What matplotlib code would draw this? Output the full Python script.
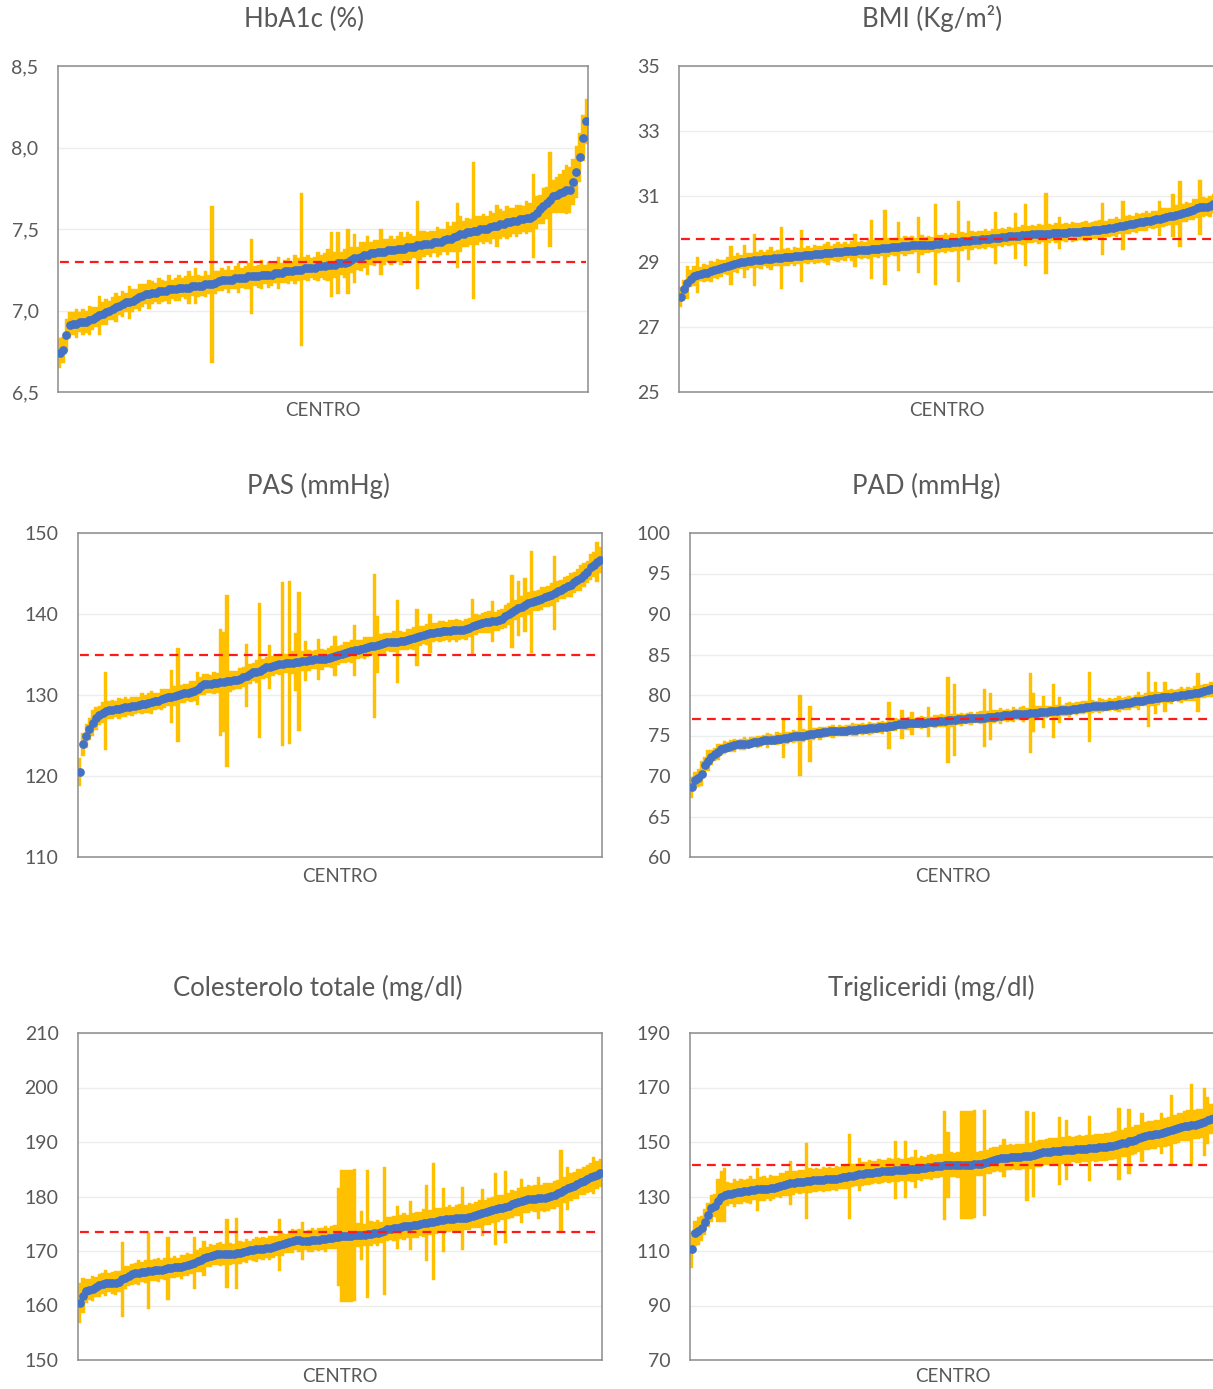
import numpy as np
import matplotlib
matplotlib.use("Agg")
import matplotlib.pyplot as plt
from matplotlib.ticker import FuncFormatter

plt.rcParams['font.family'] = ['Lato', 'DejaVu Sans']

# ---------------- HbA1c (%) : centre means (sorted) and CI half-widths ----------------
hba1c_mean = [
    6.74, 6.76, 6.85, 6.91, 6.92, 6.92, 6.93, 6.93, 6.93, 6.94, 6.95, 6.96, 6.97, 6.98, 6.99, 7.00,
    7.01, 7.02, 7.03, 7.04, 7.05, 7.05, 7.06, 7.07, 7.08, 7.09, 7.10, 7.10, 7.11, 7.11, 7.12, 7.12,
    7.12, 7.13, 7.13, 7.13, 7.14, 7.14, 7.14, 7.14, 7.15, 7.15, 7.15, 7.15, 7.16, 7.16, 7.16, 7.17,
    7.18, 7.19, 7.19, 7.19, 7.19, 7.20, 7.20, 7.20, 7.20, 7.21, 7.21, 7.21, 7.21, 7.22, 7.22, 7.22,
    7.22, 7.23, 7.23, 7.23, 7.24, 7.24, 7.24, 7.25, 7.25, 7.25, 7.26, 7.26, 7.26, 7.26, 7.27, 7.27,
    7.27, 7.28, 7.28, 7.28, 7.29, 7.29, 7.29, 7.30, 7.31, 7.32, 7.32, 7.33, 7.34, 7.34, 7.35, 7.35,
    7.36, 7.36, 7.36, 7.37, 7.37, 7.37, 7.38, 7.38, 7.38, 7.39, 7.39, 7.39, 7.40, 7.40, 7.41, 7.41,
    7.41, 7.42, 7.42, 7.42, 7.43, 7.44, 7.44, 7.45, 7.46, 7.47, 7.47, 7.48, 7.48, 7.49, 7.49, 7.50,
    7.50, 7.50, 7.51, 7.52, 7.52, 7.53, 7.53, 7.54, 7.54, 7.55, 7.55, 7.56, 7.56, 7.57, 7.57, 7.58,
    7.60, 7.62, 7.64, 7.66, 7.68, 7.70, 7.71, 7.72, 7.73, 7.74, 7.74, 7.79, 7.85, 7.94, 8.06, 8.16,
]
hba1c_ci = [
    .09, .08, .10, .08, .07, .09, .06, .08, .07, .09, .07, .06, .12, .07, .08, .06,
    .07, .09, .06, .08, .06, .10, .07, .06, .08, .07, .06, .09, .07, .06, .08, .07,
    .06, .09, .06, .07, .08, .06, .07, .10, .06, .11, .07, .06, .08, .06, .48, .07,
    .06, .07, .06, .08, .06, .07, .09, .06, .07, .08, .23, .06, .07, .09, .06, .08,
    .07, .06, .10, .06, .07, .08, .06, .09, .07, .47, .07, .08, .06, .07, .09, .07,
    .08, .10, .20, .08, .19, .07, .09, .20, .08, .15, .07, .09, .08, .12, .07, .08,
    .07, .14, .08, .07, .09, .07, .08, .10, .07, .09, .08, .07, .27, .09, .08, .07,
    .08, .07, .09, .08, .07, .10, .08, .09, .20, .11, .08, .09, .08, .42, .09, .08,
    .09, .08, .10, .08, .13, .09, .08, .10, .09, .08, .10, .09, .08, .10, .09, .26,
    .10, .09, .11, .10, .29, .10, .11, .12, .13, .15, .14, .14, .16, .15, .14, .14,
]
hba1c_ref = 7.3

# ---------------- BMI (Kg/m2) ----------------
bmi_mean = [
    27.92, 28.15, 28.35, 28.48, 28.55, 28.60, 28.62, 28.64, 28.66, 28.70, 28.74, 28.77, 28.80, 28.83, 28.86, 28.89,
    28.92, 28.95, 28.98, 29.00, 29.01, 29.03, 29.04, 29.05, 29.06, 29.07, 29.08, 29.09, 29.10, 29.11, 29.12, 29.13,
    29.14, 29.15, 29.16, 29.17, 29.18, 29.19, 29.20, 29.21, 29.22, 29.23, 29.24, 29.25, 29.26, 29.27, 29.28, 29.29,
    29.30, 29.31, 29.32, 29.33, 29.34, 29.35, 29.36, 29.36, 29.37, 29.38, 29.39, 29.40, 29.41, 29.42, 29.43, 29.44,
    29.45, 29.46, 29.47, 29.48, 29.49, 29.50, 29.50, 29.51, 29.51, 29.51, 29.52, 29.52, 29.53, 29.54, 29.56, 29.57,
    29.58, 29.59, 29.60, 29.61, 29.62, 29.63, 29.64, 29.65, 29.66, 29.67, 29.68, 29.69, 29.70, 29.71, 29.72, 29.73,
    29.74, 29.75, 29.77, 29.78, 29.79, 29.80, 29.81, 29.82, 29.83, 29.84, 29.84, 29.85, 29.85, 29.86, 29.86, 29.87,
    29.88, 29.88, 29.89, 29.89, 29.90, 29.90, 29.91, 29.92, 29.93, 29.94, 29.95, 29.96, 29.97, 29.98, 29.99, 30.00,
    30.02, 30.04, 30.06, 30.08, 30.10, 30.12, 30.14, 30.16, 30.18, 30.20, 30.22, 30.24, 30.26, 30.28, 30.30, 30.32,
    30.35, 30.37, 30.39, 30.41, 30.43, 30.46, 30.49, 30.52, 30.55, 30.59, 30.63, 30.66, 30.67, 30.68, 30.70, 30.78,
]
bmi_ci = [
    .30, .28, .50, .25, .30, .55, .22, .28, .25, .32, .24, .30, .26, .22, .28, .60,
    .25, .30, .22, .50, .26, .24, .80, .25, .30, .22, .27, .35, .24, .26, .95, .25,
    .28, .22, .30, .25, .80, .24, .27, .22, .30, .26, .24, .28, .35, .22, .26, .30,
    .25, .28, .22, .30, .50, .24, .27, .25, .30, .90, .26, .28, .24, 1.15, .30, .25,
    .27, .75, .24, .30, .26, .28, .22, .85, .30, .25, .27, .24, 1.25, .28, .26, .30,
    .24, .30, .26, 1.25, .28, .25, .60, .30, .24, .28, .26, .30, .25, .28, .80, .26,
    .30, .24, .28, .26, .70, .25, .30, .95, .26, .28, .24, .30, .26, 1.25, .28, .25,
    .30, .50, .26, .28, .24, .30, .27, .25, .28, .30, .24, .26, .28, .30, .80, .25,
    .28, .26, .30, .24, .75, .27, .28, .25, .30, .26, .28, .30, .24, .28, .26, .55,
    .30, .28, .26, .65, .30, 1.00, .28, .30, .26, .32, .28, .85, .30, .28, .32, .30,
]
bmi_ref = 29.7

# ---------------- PAS (mmHg) ----------------
pas_mean = [
    120.5, 123.9, 124.9, 125.8, 126.5, 127.1, 127.5, 127.8, 128.0, 128.1, 128.2, 128.3, 128.3, 128.4, 128.5, 128.5,
    128.6, 128.7, 128.8, 128.9, 128.9, 129.0, 129.1, 129.2, 129.3, 129.5, 129.6, 129.7, 129.8, 129.9, 130.0, 130.1,
    130.2, 130.3, 130.4, 130.5, 130.8, 131.1, 131.3, 131.4, 131.4, 131.5, 131.5, 131.6, 131.6, 131.7, 131.7, 131.8,
    131.9, 132.0, 132.2, 132.4, 132.6, 132.8, 132.9, 133.0, 133.2, 133.4, 133.5, 133.6, 133.7, 133.8, 133.8, 133.9,
    134.0, 134.0, 134.1, 134.1, 134.2, 134.2, 134.3, 134.3, 134.4, 134.4, 134.4, 134.5, 134.6, 134.7, 134.8, 134.9,
    135.1, 135.2, 135.3, 135.4, 135.5, 135.6, 135.7, 135.8, 135.9, 136.0, 136.1, 136.2, 136.3, 136.4, 136.5, 136.5,
    136.6, 136.6, 136.7, 136.7, 136.8, 136.9, 137.0, 137.1, 137.3, 137.4, 137.5, 137.6, 137.7, 137.8, 137.8, 137.9,
    137.9, 137.9, 138.0, 138.0, 138.0, 138.0, 138.1, 138.3, 138.5, 138.7, 138.8, 138.9, 139.0, 139.0, 139.1, 139.1,
    139.2, 139.4, 139.7, 140.0, 140.3, 140.5, 140.7, 140.9, 141.1, 141.3, 141.5, 141.6, 141.7, 141.9, 142.1, 142.2,
    142.4, 142.6, 142.8, 143.0, 143.2, 143.4, 143.6, 143.9, 144.2, 144.5, 144.8, 145.2, 145.8, 146.1, 146.4, 146.7,
]
pas_ci = [
    1.7, 1.4, 1.5, 1.3, 1.6, 1.4, 1.2, 1.3, 4.8, 1.1, 1.2, 1.0, 1.3, 1.1, 1.2, 1.0,
    1.2, 1.1, 1.0, 1.3, 1.1, 1.2, 1.4, 1.1, 1.0, 1.3, 1.2, 1.1, 3.3, 1.2, 5.8, 1.1,
    1.2, 1.0, 1.3, 1.2, 2.0, 1.1, 1.3, 1.2, 1.1, 1.4, 1.2, 6.6, 6.2, 10.6, 1.3, 1.2,
    1.1, 1.3, 1.2, 3.9, 1.2, 1.1, 1.4, 8.3, 1.2, 1.3, 2.7, 1.2, 1.1, 1.3, 10.1, 1.2,
    10.1, 1.4, 3.6, 8.6, 1.2, 2.5, 1.3, 1.1, 1.2, 2.5, 1.3, 1.1, 1.2, 1.4, 2.5, 1.2,
    1.1, 1.3, 1.2, 1.4, 3.1, 1.2, 1.1, 1.3, 1.2, 1.1, 8.9, 3.5, 1.2, 1.3, 1.1, 1.2,
    1.3, 5.1, 1.2, 1.1, 1.3, 1.2, 1.4, 3.5, 1.2, 1.1, 1.3, 2.4, 1.2, 1.1, 1.3, 1.2,
    1.1, 1.3, 1.2, 1.4, 1.2, 1.1, 1.3, 1.2, 3.4, 1.3, 1.1, 1.2, 1.3, 1.4, 2.5, 1.2,
    1.3, 1.2, 1.4, 1.3, 4.5, 1.2, 3.4, 1.3, 3.3, 1.4, 6.3, 1.2, 1.3, 1.4, 1.2, 1.3,
    1.4, 4.6, 1.3, 1.2, 1.4, 1.3, 1.5, 1.3, 1.4, 1.6, 1.5, 1.4, 1.6, 1.5, 2.5, 1.6,
]
pas_ref = 135.0

# ---------------- PAD (mmHg) ----------------
pad_mean = [
    68.6, 69.5, 69.8, 70.3, 71.3, 71.9, 72.3, 72.7, 73.0, 73.3, 73.5, 73.6, 73.7, 73.8, 73.9, 73.9,
    74.0, 74.0, 74.1, 74.2, 74.2, 74.3, 74.4, 74.4, 74.5, 74.5, 74.6, 74.6, 74.7, 74.7, 74.8, 74.9,
    74.9, 75.0, 75.0, 75.1, 75.2, 75.2, 75.3, 75.3, 75.4, 75.4, 75.5, 75.5, 75.5, 75.6, 75.6, 75.6,
    75.7, 75.7, 75.7, 75.8, 75.8, 75.8, 75.9, 75.9, 75.9, 76.0, 76.0, 76.1, 76.2, 76.2, 76.3, 76.4,
    76.4, 76.4, 76.5, 76.5, 76.5, 76.6, 76.6, 76.6, 76.7, 76.7, 76.7, 76.8, 76.8, 76.8, 76.9, 76.9,
    76.9, 77.0, 77.0, 77.0, 77.1, 77.1, 77.1, 77.2, 77.2, 77.2, 77.3, 77.3, 77.3, 77.4, 77.4, 77.5,
    77.5, 77.5, 77.6, 77.6, 77.7, 77.7, 77.7, 77.8, 77.8, 77.8, 77.9, 77.9, 77.9, 78.0, 78.0, 78.0,
    78.1, 78.1, 78.2, 78.2, 78.3, 78.3, 78.4, 78.4, 78.5, 78.5, 78.6, 78.6, 78.7, 78.7, 78.7, 78.8,
    78.8, 78.8, 78.9, 78.9, 79.0, 79.0, 79.1, 79.2, 79.3, 79.3, 79.4, 79.5, 79.5, 79.6, 79.6, 79.7,
    79.7, 79.8, 79.8, 79.9, 79.9, 80.0, 80.0, 80.1, 80.1, 80.2, 80.3, 80.4, 80.5, 80.6, 80.7, 80.8,
]
pad_ci = [
    1.3, 1.0, 1.1, 1.5, 1.0, 1.3, 0.9, 0.8, 1.0, 0.7, 0.8, 0.6, 0.7, 0.8, 0.6, 0.7,
    0.8, 0.6, 0.7, 0.6, 0.8, 0.7, 0.6, 0.9, 0.7, 0.6, 0.8, 0.7, 2.5, 0.7, 0.6, 0.8,
    0.7, 4.95, 0.8, 0.6, 3.5, 0.7, 0.6, 0.8, 0.7, 0.6, 0.7, 0.8, 0.6, 0.7, 0.6, 0.7,
    0.6, 0.8, 0.7, 0.6, 0.7, 0.6, 0.8, 0.7, 0.6, 0.7, 0.8, 0.6, 2.9, 0.7, 0.8, 0.6,
    1.8, 0.7, 0.8, 1.4, 0.6, 0.7, 0.8, 0.7, 1.85, 0.6, 0.8, 0.7, 0.8, 0.7, 5.35, 0.8,
    4.4, 0.7, 0.8, 0.6, 0.7, 0.8, 0.6, 0.7, 0.8, 3.6, 0.7, 2.9, 0.8, 0.7, 1.0, 0.7,
    0.8, 0.7, 0.9, 0.7, 0.8, 1.0, 0.7, 4.9, 2.4, 0.8, 0.7, 2.0, 0.8, 0.7, 3.35, 0.8,
    1.6, 0.7, 0.8, 0.9, 0.7, 0.8, 0.7, 0.8, 0.7, 4.3, 0.8, 0.7, 0.9, 0.8, 0.7, 0.8,
    0.7, 0.8, 1.0, 0.7, 0.8, 0.9, 0.7, 0.8, 1.1, 0.7, 0.8, 3.4, 0.9, 2.0, 0.8, 0.7,
    1.85, 0.8, 0.9, 0.7, 0.8, 1.0, 0.8, 0.9, 0.8, 0.9, 2.45, 0.8, 0.9, 0.8, 0.9, 0.8,
]
pad_ref = 77.0

# ---------------- Colesterolo totale (mg/dl) ----------------
col_mean = [
    160.4, 161.8, 162.6, 162.9, 163.1, 163.4, 163.7, 164.0, 164.2, 164.2, 164.1, 164.1, 164.4, 164.8, 165.1, 165.4,
    165.7, 165.9, 166.0, 166.1, 166.2, 166.3, 166.4, 166.5, 166.5, 166.6, 166.7, 166.8, 166.9, 167.0, 167.0, 167.1,
    167.3, 167.5, 167.6, 167.8, 168.1, 168.4, 168.7, 168.9, 169.1, 169.3, 169.4, 169.4, 169.4, 169.5, 169.5, 169.5,
    169.6, 169.7, 169.8, 170.0, 170.1, 170.2, 170.3, 170.4, 170.4, 170.5, 170.6, 170.7, 170.9, 171.1, 171.2, 171.4,
    171.6, 171.8, 172.0, 172.0, 171.9, 171.9, 171.9, 172.0, 172.0, 172.1, 172.2, 172.2, 172.3, 172.4, 172.5, 172.6,
    172.7, 172.8, 172.8, 172.8, 172.9, 172.9, 172.9, 173.0, 173.1, 173.2, 173.3, 173.3, 173.4, 173.7, 174.0, 174.1,
    174.2, 174.3, 174.4, 174.5, 174.5, 174.6, 174.7, 174.8, 174.9, 175.1, 175.2, 175.3, 175.4, 175.5, 175.6, 175.7,
    175.8, 175.9, 175.9, 176.0, 176.0, 176.0, 176.1, 176.3, 176.5, 176.6, 176.8, 177.0, 177.1, 177.3, 177.5, 177.7,
    177.8, 177.9, 178.1, 178.3, 178.6, 178.8, 179.0, 179.2, 179.4, 179.5, 179.6, 179.6, 179.7, 179.7, 179.8, 179.9,
    180.1, 180.3, 180.6, 180.9, 181.2, 181.5, 181.8, 182.0, 182.3, 182.6, 182.9, 183.2, 183.5, 183.8, 184.0, 184.3,
]
col_ci = [
    3.7, 3.2, 2.2, 1.9, 2.3, 1.8, 2.1, 1.9, 2.4, 1.8, 2.0, 2.2, 1.9, 6.9, 2.1, 1.8,
    2.0, 1.9, 2.3, 1.8, 2.1, 7.0, 1.9, 2.0, 2.2, 1.8, 2.1, 5.7, 1.9, 2.0, 1.8, 2.2,
    1.9, 2.1, 1.8, 4.7, 2.0, 2.2, 3.2, 1.9, 2.1, 1.8, 2.0, 2.2, 1.9, 6.3, 2.0, 1.8,
    6.5, 2.1, 1.9, 2.2, 1.8, 2.0, 2.3, 1.9, 2.1, 1.8, 2.2, 2.0, 1.9, 4.8, 2.1, 1.8,
    2.0, 2.2, 1.9, 2.1, 3.5, 1.8, 2.0, 2.2, 1.9, 2.1, 2.0, 2.3, 1.9, 2.1, 2.2, 9.0,
    12.1, 12.1, 12.1, 12.1, 12.1, 2.2, 4.5, 2.0, 11.7, 2.3, 2.1, 2.4, 2.0, 11.8, 2.2, 2.1,
    2.3, 4.0, 2.2, 2.5, 2.1, 4.5, 2.3, 2.4, 2.2, 2.6, 7.0, 2.3, 10.7, 2.4, 2.2, 5.8,
    2.3, 2.5, 2.2, 2.4, 2.6, 5.8, 2.3, 2.5, 2.2, 2.4, 2.6, 4.3, 2.3, 2.5, 2.4, 6.6,
    2.5, 2.3, 6.6, 2.4, 2.6, 2.3, 2.5, 4.0, 2.4, 2.6, 2.3, 2.5, 3.8, 2.4, 2.6, 2.5,
    2.4, 2.6, 2.5, 7.6, 2.4, 4.0, 2.6, 2.5, 2.7, 2.4, 2.6, 2.5, 2.7, 3.4, 2.6, 2.5,
]
col_ref = 173.5

# ---------------- Trigliceridi (mg/dl) ----------------
trig_mean = [
    110.6, 116.5, 117.3, 118.3, 120.6, 123.3, 125.6, 126.6, 128.5, 130.0, 130.6, 130.9, 131.1, 131.3, 131.5, 131.7,
    131.9, 132.1, 132.3, 132.5, 132.6, 132.7, 132.8, 132.9, 133.1, 133.3, 133.6, 134.0, 134.4, 134.7, 134.9, 135.0,
    135.2, 135.4, 135.5, 135.6, 135.8, 135.9, 136.0, 136.1, 136.2, 136.3, 136.3, 136.4, 136.6, 136.8, 137.0, 137.2,
    137.4, 137.6, 137.9, 138.1, 138.3, 138.5, 138.7, 138.8, 138.9, 139.1, 139.2, 139.3, 139.4, 139.5, 139.6, 139.7,
    139.8, 139.9, 140.0, 140.0, 140.1, 140.1, 140.3, 140.5, 140.7, 140.9, 141.1, 141.2, 141.3, 141.4, 141.5, 141.6,
    141.7, 141.7, 141.7, 141.7, 141.7, 141.7, 141.8, 141.9, 142.1, 142.3, 142.7, 143.1, 143.5, 143.8, 144.0, 144.1,
    144.3, 144.4, 144.5, 144.5, 144.6, 144.7, 144.8, 145.0, 145.3, 145.6, 145.9, 146.2, 146.4, 146.5, 146.6, 146.7,
    146.8, 146.9, 147.0, 147.1, 147.2, 147.3, 147.4, 147.5, 147.6, 147.7, 147.8, 147.9, 148.0, 148.1, 148.2, 148.4,
    148.6, 148.9, 149.2, 149.5, 149.8, 150.2, 150.5, 150.9, 151.3, 151.7, 152.1, 152.4, 152.6, 152.8, 153.0, 153.2,
    153.5, 153.9, 154.3, 154.7, 155.1, 155.5, 155.8, 156.0, 156.2, 156.4, 156.6, 156.8, 157.3, 157.9, 158.5, 158.9,
]
trig_ci = [
    6.7, 4.5, 5.0, 4.6, 4.8, 4.4, 5.0, 4.2, 8.0, 9.5, 10.0, 4.5, 4.0, 5.0, 4.2, 4.6,
    4.0, 4.4, 5.2, 3.9, 8.0, 4.3, 4.6, 4.0, 4.8, 4.2, 3.9, 4.5, 4.1, 4.6, 8.0, 4.3,
    4.0, 4.5, 4.2, 14.0, 4.6, 4.1, 4.3, 4.0, 4.7, 4.2, 4.4, 4.0, 4.5, 4.1, 4.3, 4.6,
    15.5, 4.2, 4.0, 6.0, 4.4, 4.1, 4.6, 4.2, 4.0, 4.5, 4.3, 4.1, 4.6, 4.2, 10.7, 4.4,
    4.1, 10.5, 4.3, 4.6, 7.0, 4.2, 4.5, 4.1, 4.4, 4.7, 4.2, 4.5, 4.3, 20.0, 12.0, 4.6,
    4.4, 4.8, 19.8, 19.8, 19.8, 19.8, 19.8, 4.5, 4.7, 19.5, 4.4, 4.8, 4.6, 4.5, 4.9, 7.0,
    4.6, 4.8, 4.5, 4.9, 4.7, 4.6, 16.4, 4.8, 15.6, 4.7, 4.9, 4.6, 4.8, 5.0, 4.7, 4.9,
    12.5, 4.8, 11.0, 5.0, 4.7, 4.9, 5.1, 4.8, 5.0, 11.9, 4.9, 5.1, 4.8, 5.0, 5.2, 4.9,
    5.1, 5.3, 13.3, 5.0, 5.2, 12.0, 5.1, 5.3, 5.0, 9.0, 5.2, 5.4, 5.1, 5.3, 5.0, 7.5,
    5.4, 5.2, 12.9, 5.3, 5.5, 5.2, 5.4, 5.6, 15.0, 5.3, 5.5, 5.4, 12.4, 8.5, 5.6, 5.5,
]
trig_ref = 141.5

# ---------------- layout ----------------
W, H = 1213, 1389
fig = plt.figure(figsize=(W / 100, H / 100), dpi=100)

TEXT = '#595959'
GOLD = '#FFC000'
BLUE = '#4472C4'
RED = '#FF1A1A'


def axes_px(l, t, r, b):
    return fig.add_axes([l / W, 1 - b / H, (r - l) / W, (b - t) / H])


def comma_fmt(v, _):
    return f"{v:.1f}".replace('.', ',')


def int_fmt(v, _):
    return f"{v:.0f}"


panels = [
    ("HbA1c (%)", hba1c_mean, hba1c_ci, hba1c_ref, (6.5, 8.5), 0.5, comma_fmt,
     (58, 66, 588, 392), (304, 19), 410),
    ("BMI (Kg/m²)", bmi_mean, bmi_ci, bmi_ref, (25, 35), 2, int_fmt,
     (679, 66, 1215, 392), (932, 19), 410),
    ("PAS (mmHg)", pas_mean, pas_ci, pas_ref, (110, 150), 10, int_fmt,
     (78, 533, 602, 857), (318, 486), 876),
    ("PAD (mmHg)", pad_mean, pad_ci, pad_ref, (60, 100), 5, int_fmt,
     (690, 533, 1216, 857), (926, 486), 876),
    ("Colesterolo totale (mg/dl)", col_mean, col_ci, col_ref, (150, 210), 10, int_fmt,
     (78, 1033, 602, 1360), (318, 988), 1377),
    ("Trigliceridi (mg/dl)", trig_mean, trig_ci, trig_ref, (70, 190), 20, int_fmt,
     (690, 1033, 1216, 1360), (931, 988), 1377),
]

for title, mean, ci, ref, ylim, step, fmt, box, title_xy, xlab_y in panels:
    mean = np.asarray(mean)
    ci = np.asarray(ci)
    n = len(mean)
    x = np.arange(n)

    ax = axes_px(*box)
    ax.set_xlim(-0.5, n - 0.5)
    ax.set_ylim(*ylim)

    # confidence intervals as contiguous vertical bars
    ax.bar(x, 2 * ci, bottom=mean - ci, width=1.0, color=GOLD,
           linewidth=0.3, edgecolor=GOLD, zorder=2)
    # centre means
    ax.plot(x, mean, 'o', color=BLUE, ms=6.3, mec='none', zorder=3)
    # overall reference value
    ax.hlines(ref, 0, n - 1, colors=RED, linestyles=(0, (4, 2.7)),
              linewidth=1.6, zorder=4)

    ax.set_yticks(np.arange(ylim[0], ylim[1] + step / 2, step))
    ax.yaxis.set_major_formatter(FuncFormatter(fmt))
    ax.yaxis.grid(True, color='#EDEDED', linewidth=1.0)
    ax.set_axisbelow(True)
    ax.set_xticks([])
    ax.tick_params(axis='y', length=0, pad=14, labelsize=14, labelcolor=TEXT)
    for sp in ax.spines.values():
        sp.set_color('#8C8C8C')
        sp.set_linewidth(1.1)

    fig.text(title_xy[0] / W, 1 - title_xy[1] / H, title, ha='center',
             va='center', fontsize=18.5, color=TEXT)
    cx = (box[0] + box[2]) / 2
    fig.text(cx / W, 1 - xlab_y / H, "CENTRO", ha='center', va='center',
             fontsize=13.5, color=TEXT)

fig.savefig("out.png", dpi=100, facecolor='white')
